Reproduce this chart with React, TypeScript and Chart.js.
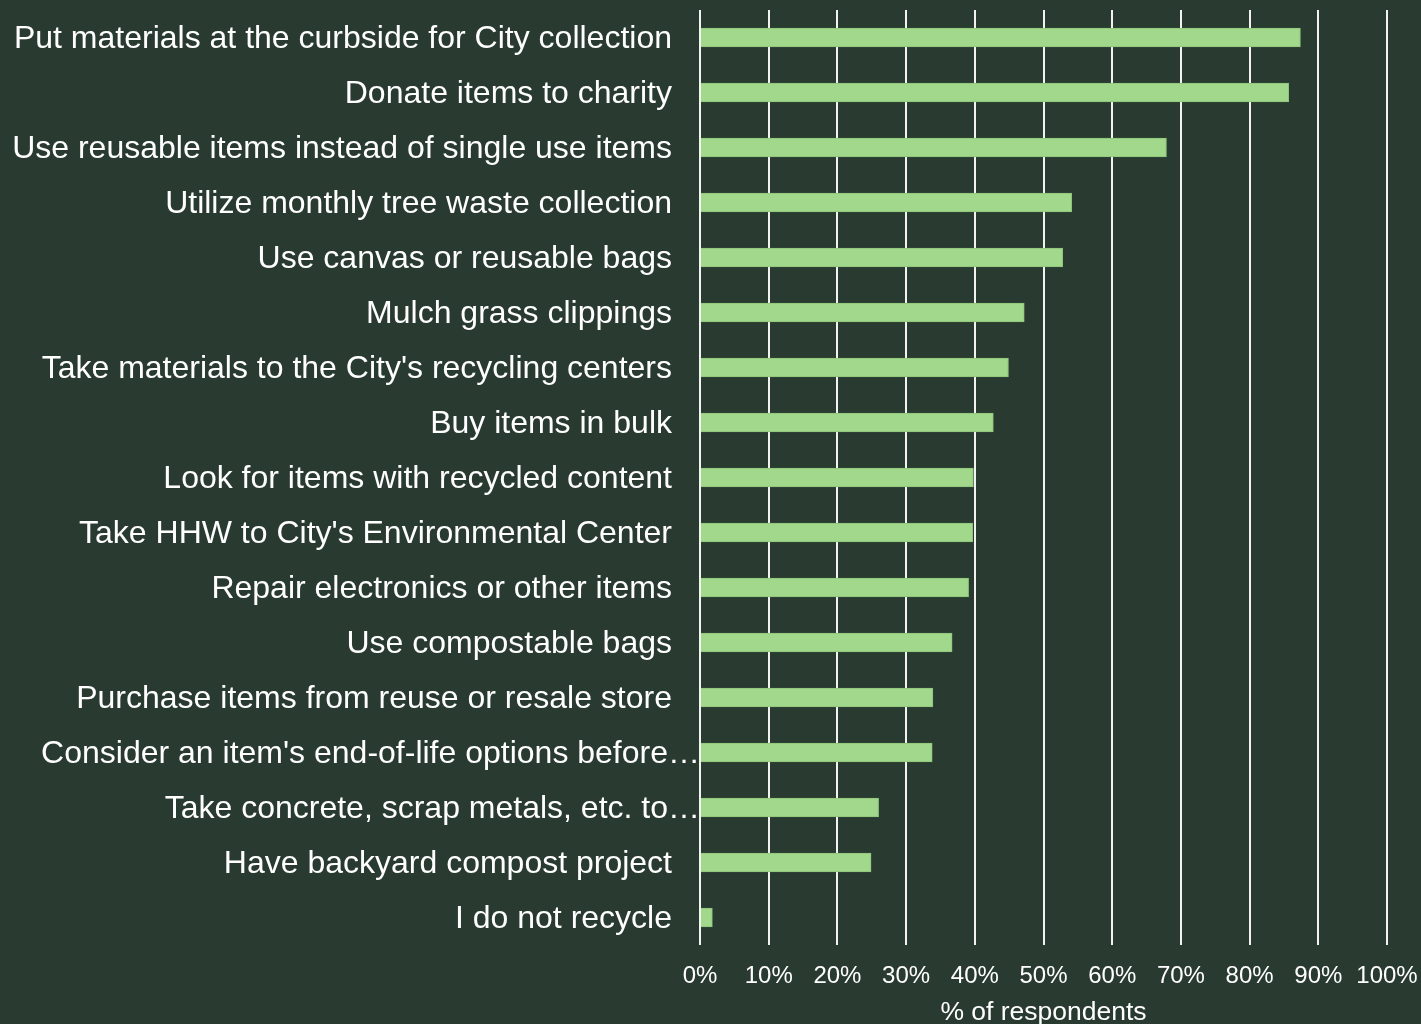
import React, { useEffect, useRef } from "react";
import { Chart, registerables } from "chart.js";

Chart.register(...registerables);

const categories: string[] = [
  "Put materials at the curbside for City collection",
  "Donate items to charity",
  "Use reusable items instead of single use items",
  "Utilize monthly tree waste collection",
  "Use canvas or reusable bags",
  "Mulch grass clippings",
  "Take materials to the City's recycling centers",
  "Buy items in bulk",
  "Look for items with recycled content",
  "Take HHW to City's Environmental Center",
  "Repair electronics or other items",
  "Use compostable bags",
  "Purchase items from reuse or resale store",
  "Consider an item's end-of-life options before…",
  "Take concrete, scrap metals, etc. to…",
  "Have backyard compost project",
  "I do not recycle",
];

const percentRespondents: number[] = [
  87.4, 85.7, 67.9, 54.1, 52.8, 47.2, 44.9, 42.7, 39.8, 39.7, 39.1, 36.7, 33.9, 33.8, 26.0, 24.9, 1.8,
];

const xTickValues: number[] = [0, 10, 20, 30, 40, 50, 60, 70, 80, 90, 100];
const xAxisTitle = "% of respondents";

const BG = "#293a31";
const BAR = "#a2d88c";
const FONT = "'Liberation Sans', Arial, sans-serif";
const Y_TICK_PADDING = 28;

// Truncated labels (ending in an ellipsis) overflow the tick padding up to the axis, as in the original.
const truncatedLabelPlugin = {
  id: "truncatedLabelShift",
  beforeDraw(chart: any) {
    const scale = chart.scales.y;
    if (!scale) return;
    const items = scale.getLabelItems(chart.chartArea);
    items.forEach((item: any) => {
      const lbl = Array.isArray(item.label) ? item.label[item.label.length - 1] : item.label;
      if (typeof lbl === "string" && lbl.endsWith("…") && !item._shifted) {
        item.options.translation[0] += Y_TICK_PADDING;
        item._shifted = true;
      }
    });
  },
};

export default function App() {
  const ref = useRef<HTMLCanvasElement | null>(null);

  useEffect(() => {
    document.body.style.margin = "0";
    document.body.style.background = BG;
    const canvas = ref.current!;
    const chart = new Chart(canvas, {
      type: "bar",
      data: {
        labels: categories,
        datasets: [
          {
            data: percentRespondents,
            backgroundColor: BAR,
            borderColor: "#8cc479",
            borderWidth: 1,
            borderSkipped: "start",
            barThickness: 19,
          },
        ],
      },
      plugins: [truncatedLabelPlugin],
      options: {
        indexAxis: "y",
        animation: false,
        responsive: false,
        devicePixelRatio: 1,
        layout: { padding: { top: 10, right: 34, bottom: 0, left: 0 } },
        plugins: {
          legend: { display: false },
          tooltip: { enabled: false },
        },
        scales: {
          x: {
            type: "linear",
            min: 0,
            max: 100,
            afterBuildTicks: (scale: any) => {
              scale.ticks = xTickValues.map((v) => ({ value: v }));
            },
            afterFit: (scale: any) => {
              scale.height = 79;
              scale.paddingLeft = 0;
              scale.paddingRight = 0;
            },
            grid: {
              color: "#f2f2f2",
              lineWidth: 2,
              drawTicks: false,
            },
            border: { display: false },
            ticks: {
              color: "#ffffff",
              padding: 17,
              font: { family: FONT, size: 24 },
              callback: (v: any) => `${v}%`,
              maxRotation: 0,
            },
            title: {
              display: true,
              text: xAxisTitle,
              color: "#ffffff",
              font: { family: FONT, size: 26.5, lineHeight: 1 },
              padding: { top: 0, bottom: -2 },
            },
          },
          y: {
            afterFit: (scale: any) => {
              scale.width = 700;
              scale.paddingTop = 0;
              scale.paddingBottom = 0;
            },
            grid: { display: false, drawTicks: false },
            border: { display: false },
            ticks: {
              color: "#ffffff",
              padding: Y_TICK_PADDING,
              font: { family: FONT, size: 32, lineHeight: 0.125 },
              autoSkip: false,
              callback: (_v: any, i: number) => ["", categories[i]],
            },
          },
        },
      },
    } as any);
    return () => chart.destroy();
  }, []);

  return (
    <div style={{ width: 1421, height: 1024, background: BG, position: "relative" }}>
      <canvas ref={ref} width={1421} height={1024} style={{ display: "block", width: 1421, height: 1024 }} />
    </div>
  );
}
